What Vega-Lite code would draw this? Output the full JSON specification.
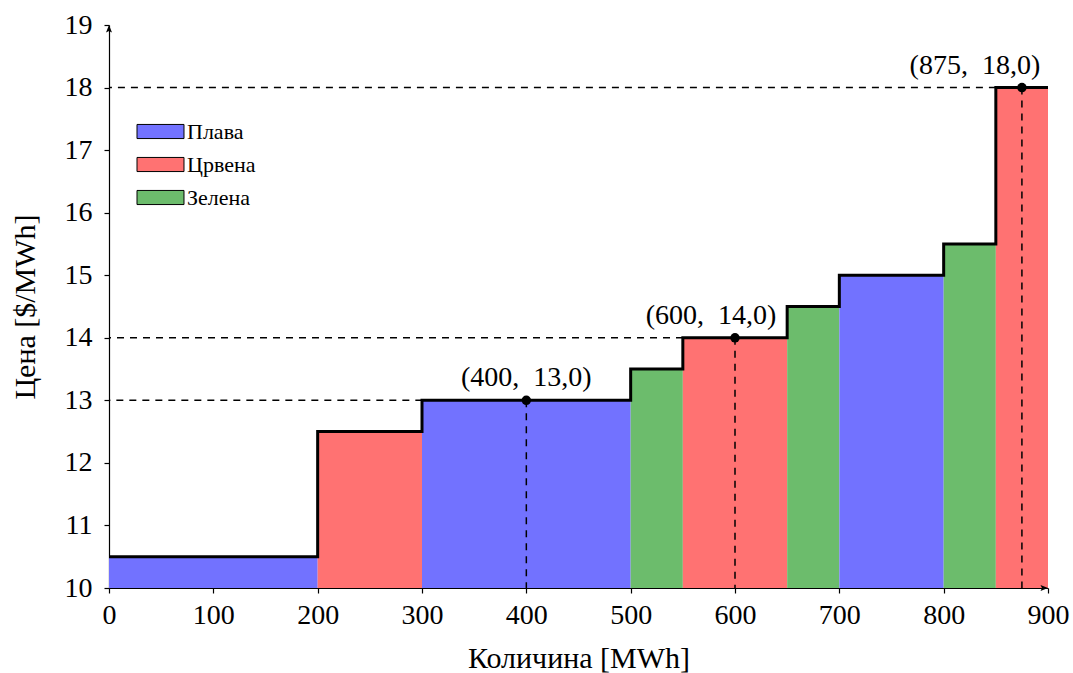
{
  "$schema": "https://vega.github.io/schema/vega-lite/v6.json",
  "width": 939,
  "height": 563,
  "autosize": {"type": "none"},
  "padding": {"left": 109, "top": 25, "right": 25, "bottom": 85},
  "config": {
    "view": {"stroke": null},
    "font": "'Liberation Serif', 'DejaVu Serif', serif",
    "axis": {
      "grid": false,
      "domainColor": "black",
      "tickColor": "black",
      "labelColor": "black",
      "titleColor": "black",
      "labelFont": "'Liberation Serif', 'DejaVu Serif', serif",
      "titleFont": "'Liberation Serif', 'DejaVu Serif', serif",
      "titleFontWeight": "normal",
      "labelFontSize": 28,
      "titleFontSize": 30,
      "labelFlush": false,
      "labelOverlap": false,
      "domainWidth": 1.2,
      "tickWidth": 1.2,
      "tickSize": 5
    }
  },
  "datasets": {
    "bars": [
      {"x0": 0, "x1": 200, "p": 10.5, "c": "Плава"},
      {"x0": 200, "x1": 300, "p": 12.5, "c": "Црвена"},
      {"x0": 300, "x1": 500, "p": 13, "c": "Плава"},
      {"x0": 500, "x1": 550, "p": 13.5, "c": "Зелена"},
      {"x0": 550, "x1": 650, "p": 14, "c": "Црвена"},
      {"x0": 650, "x1": 700, "p": 14.5, "c": "Зелена"},
      {"x0": 700, "x1": 800, "p": 15, "c": "Плава"},
      {"x0": 800, "x1": 850, "p": 15.5, "c": "Зелена"},
      {"x0": 850, "x1": 900, "p": 18, "c": "Црвена"}
    ],
    "steps": [
      {"q": 0, "p": 10.5},
      {"q": 200, "p": 12.5},
      {"q": 300, "p": 13},
      {"q": 500, "p": 13.5},
      {"q": 550, "p": 14},
      {"q": 650, "p": 14.5},
      {"q": 700, "p": 15},
      {"q": 800, "p": 15.5},
      {"q": 850, "p": 18},
      {"q": 900, "p": 18}
    ],
    "pts": [
      {"q": 400, "p": 13, "label": "(400,\u00a0\u00a013,0)"},
      {"q": 600, "p": 14, "label": "(600,\u00a0\u00a014,0)"},
      {"q": 875, "p": 18, "label": "(875,\u00a0\u00a018,0)"}
    ]
  },
  "layer": [
    {
      "data": {"name": "bars"},
      "mark": {"type": "rect", "opacity": 1},
      "encoding": {
        "x": {
          "field": "x0", "type": "quantitative",
          "scale": {"domain": [0, 900], "nice": false, "zero": false},
          "axis": {"title": "Количина [MWh]", "values": [0, 100, 200, 300, 400, 500, 600, 700, 800, 900], "format": "d", "labelPadding": 8, "titlePadding": 14}
        },
        "x2": {"field": "x1"},
        "y": {
          "field": "p", "type": "quantitative",
          "scale": {"domain": [10, 19], "nice": false, "zero": false},
          "axis": {"title": "Цена [$/MWh]", "values": [10, 11, 12, 13, 14, 15, 16, 17, 18, 19], "format": "d", "labelPadding": 12, "titlePadding": 24}
        },
        "y2": {"datum": 10},
        "fill": {
          "field": "c", "type": "nominal",
          "scale": {"domain": ["Плава", "Црвена", "Зелена"], "range": ["#7272ff", "#ff7272", "#6cbc6c"]},
          "legend": {
            "orient": "none",
            "legendX": 39,
            "legendY": 94,
            "title": null,
            "symbolType": "M-2,-0.6H2V0.6H-2Z",
            "symbolSize": 552,
            "symbolStrokeColor": "black",
            "symbolStrokeWidth": 1,
            "symbolOpacity": 1,
            "labelFont": "'Liberation Serif', 'DejaVu Serif', serif",
            "labelFontSize": 22,
            "labelColor": "black",
            "labelOffset": 14,
            "rowPadding": 9,
            "padding": 0
          }
        }
      }
    },
    {
      "data": {"name": "pts"},
      "mark": {"type": "rule", "color": "black", "strokeWidth": 1.5, "strokeDash": [7, 6]},
      "encoding": {
        "x": {"field": "q", "type": "quantitative"},
        "x2": {"datum": 0},
        "y": {"field": "p", "type": "quantitative"}
      }
    },
    {
      "data": {"name": "pts"},
      "mark": {"type": "rule", "color": "black", "strokeWidth": 1.5, "strokeDash": [7, 6]},
      "encoding": {
        "x": {"field": "q", "type": "quantitative"},
        "y": {"field": "p", "type": "quantitative"},
        "y2": {"datum": 10}
      }
    },
    {
      "data": {"name": "steps"},
      "mark": {"type": "line", "interpolate": "step-after", "color": "black", "strokeWidth": 3},
      "encoding": {
        "x": {"field": "q", "type": "quantitative"},
        "y": {"field": "p", "type": "quantitative"}
      }
    },
    {
      "data": {"name": "pts"},
      "mark": {"type": "point", "filled": true, "color": "black", "size": 90, "opacity": 1},
      "encoding": {
        "x": {"field": "q", "type": "quantitative"},
        "y": {"field": "p", "type": "quantitative"}
      }
    },
    {
      "data": {"name": "pts"},
      "transform": [{"filter": "datum.q == 400"}],
      "mark": {"type": "text", "fontSize": 28, "font": "'Liberation Serif', 'DejaVu Serif', serif", "color": "black", "align": "center", "baseline": "alphabetic", "dy": -14},
      "encoding": {
        "x": {"field": "q", "type": "quantitative"},
        "y": {"field": "p", "type": "quantitative"},
        "text": {"field": "label"}
      }
    },
    {
      "data": {"name": "pts"},
      "transform": [{"filter": "datum.q == 600"}],
      "mark": {"type": "text", "fontSize": 28, "font": "'Liberation Serif', 'DejaVu Serif', serif", "color": "black", "align": "center", "baseline": "alphabetic", "dy": -14, "dx": -24},
      "encoding": {
        "x": {"field": "q", "type": "quantitative"},
        "y": {"field": "p", "type": "quantitative"},
        "text": {"field": "label"}
      }
    },
    {
      "data": {"name": "pts"},
      "transform": [{"filter": "datum.q == 875"}],
      "mark": {"type": "text", "fontSize": 28, "font": "'Liberation Serif', 'DejaVu Serif', serif", "color": "black", "align": "center", "baseline": "alphabetic", "dy": -14, "dx": -47},
      "encoding": {
        "x": {"field": "q", "type": "quantitative"},
        "y": {"field": "p", "type": "quantitative"},
        "text": {"field": "label"}
      }
    },
    {
      "data": {"values": [{}]},
      "mark": {"type": "point", "shape": "M0,0L-1,2.5L0,2L1,2.5Z", "filled": true, "color": "black", "size": 36, "opacity": 1},
      "encoding": {
        "x": {"datum": 0},
        "y": {"datum": 19}
      }
    },
    {
      "data": {"values": [{}]},
      "mark": {"type": "point", "shape": "M0,0L-2.5,-1L-2,0L-2.5,1Z", "filled": true, "color": "black", "size": 36, "opacity": 1},
      "encoding": {
        "x": {"datum": 900},
        "y": {"datum": 10}
      }
    }
  ]
}
